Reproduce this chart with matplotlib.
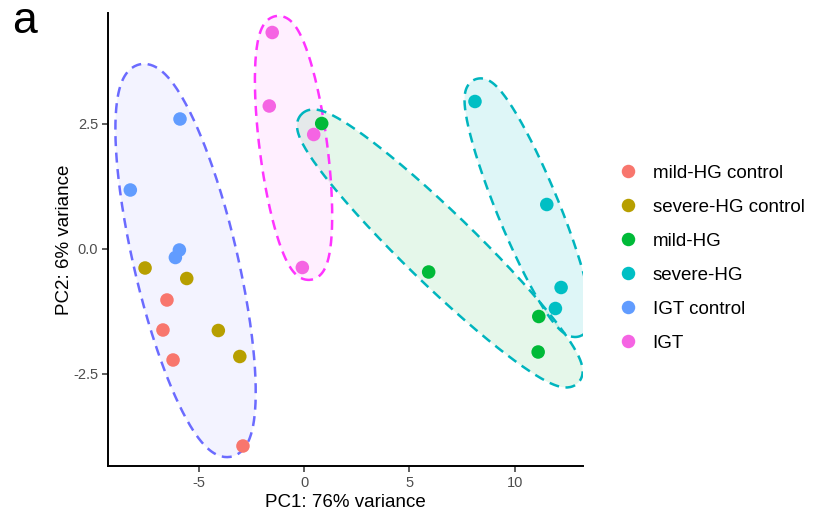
import matplotlib
matplotlib.use("Agg")
import matplotlib.pyplot as plt
from matplotlib.lines import Line2D
import numpy as np

plt.rcParams["font.family"] = ["Liberation Sans", "DejaVu Sans"]

# PCA scores per sample group (PC1, PC2)
groups = ["mild-HG control", "severe-HG control", "mild-HG", "severe-HG", "IGT control", "IGT"]
colors = ["#F8766D", "#B79F00", "#00BA38", "#00BFC4", "#619CFF", "#F564E3"]

pc1_mild_ctrl = [-6.51, -6.70, -6.22, -2.90]
pc2_mild_ctrl = [-1.02, -1.62, -2.22, -3.94]
pc1_severe_ctrl = [-7.55, -5.57, -4.07, -3.05]
pc2_severe_ctrl = [-0.38, -0.59, -1.63, -2.15]
pc1_mild = [0.84, 5.92, 11.15, 11.12]
pc2_mild = [2.51, -0.46, -1.35, -2.06]
pc1_severe = [8.12, 11.53, 12.21, 11.94]
pc2_severe = [2.95, 0.89, -0.77, -1.19]
pc1_igt_ctrl = [-5.89, -8.25, -5.92, -6.11]
pc2_igt_ctrl = [2.60, 1.18, -0.02, -0.17]
pc1_igt = [-1.51, -1.65, 0.46, -0.08]
pc2_igt = [4.33, 2.86, 2.29, -0.37]

pc1 = [pc1_mild_ctrl, pc1_severe_ctrl, pc1_mild, pc1_severe, pc1_igt_ctrl, pc1_igt]
pc2 = [pc2_mild_ctrl, pc2_severe_ctrl, pc2_mild, pc2_severe, pc2_igt_ctrl, pc2_igt]

# enclosing ellipses: which groups go in each, plus outline / fill colour
ellipse_members = [[0, 1, 4], [5], [2], [3]]
ellipse_edge = ["#6B6BFF", "#FF33FF", "#00B5BE", "#00B5BE"]
ellipse_fill = [("#6B6BFF", 0.08), ("#FF33FF", 0.08), ("#00BA38", 0.10), ("#00BFC4", 0.13)]
EXPAND_PX = 12


def mvee(P, tol=0.04):
    """Approximate minimum volume enclosing ellipse (Khachiyan, loose tolerance)."""
    N, d = P.shape
    Q = np.vstack([P.T, np.ones(N)])
    u = np.ones(N) / N
    err = 1.0
    while err > tol:
        X = Q @ np.diag(u) @ Q.T
        M = np.einsum("ij,ji->i", Q.T @ np.linalg.inv(X), Q)
        j = np.argmax(M)
        step = (M[j] - d - 1) / ((d + 1) * (M[j] - 1))
        new_u = (1 - step) * u
        new_u[j] += step
        err = np.linalg.norm(new_u - u)
        u = new_u
    c = P.T @ u
    A = np.linalg.inv(P.T @ np.diag(u) @ P - np.outer(c, c)) / d
    return A, c


def ellipse_outline(P, expand, n=400):
    A, c = mvee(P)
    lam, V = np.linalg.eigh(A)
    a, b = 1 / np.sqrt(lam)
    t = np.linspace(0, 2 * np.pi, n)
    local = np.vstack([a * np.cos(t), b * np.sin(t)])
    normal = np.vstack([b * np.cos(t), a * np.sin(t)])
    normal /= np.linalg.norm(normal, axis=0)
    pts = V @ (local + expand * normal)
    return (pts + c[:, None]).T


fig = plt.figure(figsize=(8.28, 5.19), dpi=100)
ax = fig.add_axes([108 / 828, 1 - 466 / 519, (583 - 108) / 828, (466 - 13) / 519])
ax.set_xlim(-9.31, 13.25)
ax.set_ylim(-4.34, 4.72)

# ellipses are fitted in display space so the padding is a fixed pixel width
for members, edge, (fc, fa) in zip(ellipse_members, ellipse_edge, ellipse_fill):
    xs = np.concatenate([pc1[i] for i in members])
    ys = np.concatenate([pc2[i] for i in members])
    disp = ax.transData.transform(np.column_stack([xs, ys]))
    outline = ax.transData.inverted().transform(ellipse_outline(disp, EXPAND_PX))
    ax.fill(outline[:, 0], outline[:, 1], color=fc, alpha=fa, lw=0, zorder=1)
    ax.plot(outline[:, 0], outline[:, 1], color=edge, lw=1.8,
            linestyle=(0, (4, 2.6)), zorder=2)

for x, y, col in zip(pc1, pc2, colors):
    ax.scatter(x, y, s=95, color=col, edgecolors="none", zorder=3)

for side in ["top", "right"]:
    ax.spines[side].set_visible(False)
for side in ["left", "bottom"]:
    ax.spines[side].set_linewidth(1.4)
    ax.spines[side].set_color("black")

ax.set_xticks([-5, 0, 5, 10])
ax.set_xticklabels(["-5", "0", "5", "10"])
ax.set_yticks([-2.5, 0.0, 2.5])
ax.set_yticklabels(["-2.5", "0.0", "2.5"])
ax.tick_params(length=4, width=1.1, color="#333333", labelcolor="#4D4D4D",
               labelsize=10.5, pad=3)

ax.set_xlabel("PC1: 76% variance", fontsize=13.5, labelpad=3)
ax.set_ylabel("PC2: 6% variance", fontsize=13.5, labelpad=0)

handles = [Line2D([], [], marker="o", linestyle="none", markersize=9.7,
                  markerfacecolor=c, markeredgecolor="none") for c in colors]
fig.legend(handles, groups, loc="center left", bbox_to_anchor=(619 / 828, 0.502),
           frameon=False, fontsize=13.5, borderpad=0, borderaxespad=0,
           handlelength=1.0, handletextpad=0.8, labelspacing=0.9)

fig.text(12 / 828, 1 - 33 / 519, "a", fontsize=32, ha="left", va="baseline")

fig.savefig("out.png", dpi=100)
